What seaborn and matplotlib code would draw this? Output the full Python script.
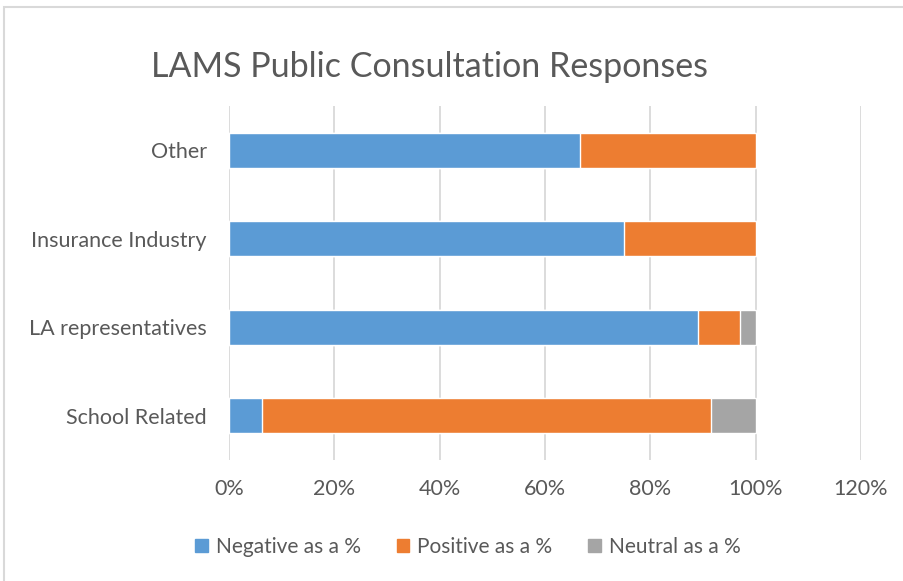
import numpy as np
import pandas as pd
import matplotlib
matplotlib.use("Agg")
import matplotlib.pyplot as plt
import seaborn as sns
from matplotlib.patches import Patch, Rectangle
from matplotlib.ticker import PercentFormatter

# =========================
# DATA
# =========================
categories = ["Other", "Insurance Industry", "LA representatives", "School Related"]
negative = [66.7, 75.0, 89.1, 6.3]
positive = [33.3, 25.0, 7.9, 85.2]
neutral = [0.0, 0.0, 3.0, 8.5]
series_names = ["Negative as a %", "Positive as a %", "Neutral as a %"]
colors = ["#5B9BD5", "#ED7D31", "#A5A5A5"]
x_ticks = [0, 20, 40, 60, 80, 100, 120]

# =========================
# GLOBAL SETTINGS
# =========================
sns.set_theme(style="white")
plt.rcParams["font.family"] = ["Lato", "DejaVu Sans"]
text_color = "#595959"

df = pd.DataFrame({
    "category": categories,
    "neg": negative,
    "pos": positive,
    "neu": neutral,
})
df["end_neg"] = df["neg"]
df["end_pos"] = df["neg"] + df["pos"]
df["end_neu"] = df["end_pos"] + df["neu"]

fig = plt.figure(figsize=(9.04, 5.81), dpi=100)
ax = fig.add_axes([229 / 904, 1 - 460 / 581, 632 / 904, 354 / 581])

# draw cumulative ends, largest first so they stack visually
for col, color in zip(["end_neu", "end_pos", "end_neg"], colors[::-1]):
    sns.barplot(
        data=df,
        x=col,
        y="category",
        order=categories,
        color=color,
        width=0.4,
        saturation=1,
        ax=ax,
        zorder=3,
    )

ax.set_xlim(0, 120)
ax.set_ylim(3.5, -0.5)
ax.set_xticks(x_ticks)
ax.xaxis.set_major_formatter(PercentFormatter(decimals=0))
ax.grid(axis="x", color="#D9D9D9", linewidth=1.3, zorder=0)
ax.set_axisbelow(True)
for spine in ax.spines.values():
    spine.set_visible(False)
ax.set_xlabel("")
ax.set_ylabel("")
ax.tick_params(axis="both", length=0, labelsize=15.5, colors=text_color)
ax.tick_params(axis="x", pad=14)
ax.tick_params(axis="y", pad=16)

fig.text(
    430 / 904, 1 - 67 / 581,
    "LAMS Public Consultation Responses",
    ha="center", va="center", fontsize=24.5, color=text_color,
)

handles = [Patch(facecolor=c, edgecolor=c) for c in colors]
fig.legend(
    handles, series_names,
    loc="center", bbox_to_anchor=(468 / 904, 1 - 547 / 581),
    ncol=3, frameon=False, fontsize=15,
    handlelength=0.6, handleheight=0.6, handletextpad=0.4,
    columnspacing=1.7, labelcolor=text_color,
)

# light frame around the chart
fig.patches.append(Rectangle(
    (4 / 904, -0.05), 1.1, 1 - 7 / 581 + 0.05,
    transform=fig.transFigure, fill=False,
    edgecolor="#D9D9D9", linewidth=1.5,
))

fig.savefig("out.png", dpi=100)
plt.close(fig)
